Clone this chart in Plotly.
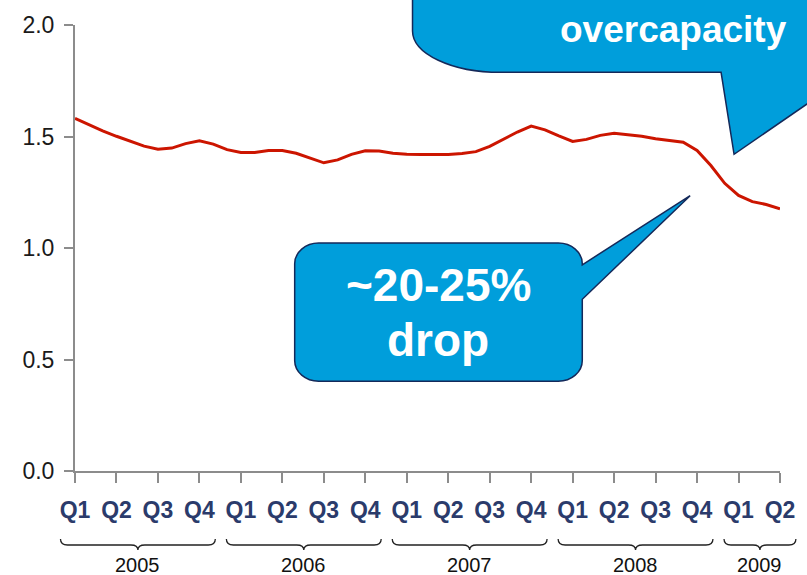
import plotly.graph_objects as go

# ---------------- data ----------------
quarter_labels = ["Q1", "Q2", "Q3", "Q4"] * 4 + ["Q1", "Q2"]
year_labels = ["2005", "2006", "2007", "2008", "2009"]
# monthly values, Jan 2005 .. Apr 2009
ratio_values = [
    1.581, 1.553, 1.525, 1.501, 1.479, 1.457, 1.443, 1.448, 1.468, 1.481, 1.466, 1.441,
    1.428, 1.428, 1.437, 1.437, 1.425, 1.405, 1.382, 1.395, 1.420, 1.436, 1.435, 1.425,
    1.420, 1.419, 1.419, 1.419, 1.424, 1.432, 1.456, 1.488, 1.520, 1.547, 1.530, 1.503,
    1.478, 1.487, 1.505, 1.514, 1.509, 1.501, 1.490, 1.481, 1.474, 1.437, 1.370, 1.290,
    1.236, 1.208, 1.195, 1.176,
]
callout_drop = ["~20-25%", "drop"]
callout_over = "overcapacity"

months = list(range(len(ratio_values)))
tick_vals = [3 * i for i in range(len(quarter_labels))]

# ---------------- geometry helpers ----------------
W, H = 807, 575
L_M, R_M, T_M, B_M = 75, 26, 19, 104
PW = W - L_M - R_M
PH = H - T_M - B_M
XMAX = months[-1]


def px(x):
    return (x - L_M) / PW


def py(y):
    return (H - B_M - y) / PH


def m2px(m):
    return L_M + m / XMAX * PW


def P(x, y):
    return f"{px(x):.5f},{py(y):.5f}"


K = 0.552


def rounded_callout(Lx, T, R, B, rx, ry, tail):
    s = f"M {P(Lx, T + ry)} "
    s += f"C {P(Lx, T + ry - K * ry)} {P(Lx + rx - K * rx, T)} {P(Lx + rx, T)} "
    s += f"L {P(R - rx, T)} "
    s += f"C {P(R - rx + K * rx, T)} {P(R, T + ry - K * ry)} {P(R, T + ry)} "
    for (x, y) in tail:
        s += f"L {P(x, y)} "
    s += f"L {P(R, B - ry)} "
    s += f"C {P(R, B - ry + K * ry)} {P(R - rx + K * rx, B)} {P(R - rx, B)} "
    s += f"L {P(Lx + rx, B)} "
    s += f"C {P(Lx + rx - K * rx, B)} {P(Lx, B - ry + K * ry)} {P(Lx, B - ry)} Z"
    return s


BLUE = "#009EDB"
EDGE = "#14295A"

fig = go.Figure()
fig.add_trace(go.Scatter(
    x=months, y=ratio_values, mode="lines",
    line=dict(color="#CC1500", width=3),
    hoverinfo="skip", showlegend=False,
))

shapes = []
# bottom callout
shapes.append(dict(
    type="path", xref="paper", yref="paper", layer="above",
    path=rounded_callout(295, 240, 583, 380, 24, 21,
                         [(583, 262), (691, 192), (583, 297)]),
    fillcolor=BLUE, line=dict(color=EDGE, width=1.5),
))
# top callout (partly off canvas)
rx, ry = 88, 42
Lx, T, R, B = 413, -80, 900, 67
top_path = f"M {P(Lx, T)} L {P(R, T)} L {P(R, B)} L {P(854, B)} L {P(735, 150)} L {P(722, B)} "
top_path += f"L {P(Lx + rx, B)} C {P(Lx + rx - K * rx, B)} {P(Lx, B - ry + K * ry)} {P(Lx, B - ry)} Z"
shapes.append(dict(
    type="path", xref="paper", yref="paper", layer="above",
    path=top_path, fillcolor=BLUE, line=dict(color=EDGE, width=1.5),
))

# year braces
annotations = []
for i, yr in enumerate(year_labels):
    first = 12 * i
    last = min(12 * i + 9, XMAX)
    x0 = m2px(first - 1.05)
    x1 = m2px(last + 1.15)
    xc = (x0 + x1) / 2
    yt, ym, yb = 540, 546, 551
    d = 7
    s = f"M {P(x0, yt)} Q {P(x0, ym)} {P(x0 + d, ym)} L {P(xc - d, ym)} "
    s += f"Q {P(xc, ym)} {P(xc, yb)} Q {P(xc, ym)} {P(xc + d, ym)} "
    s += f"L {P(x1 - d, ym)} Q {P(x1, ym)} {P(x1, yt)}"
    shapes.append(dict(type="path", xref="paper", yref="paper", path=s,
                       line=dict(color="#222222", width=1.3)))
    annotations.append(dict(
        x=px(xc), y=py(566), xref="paper", yref="paper", text=yr,
        showarrow=False, xanchor="center", yanchor="middle",
        font=dict(family="Liberation Sans, Arial", size=20, color="#111111"),
    ))

FONT_B = "Liberation Sans, Arial"
annotations.append(dict(
    x=px(439), y=py(282), xref="paper", yref="paper",
    text=f"<b>{callout_drop[0]}</b>", showarrow=False,
    xanchor="center", yanchor="middle",
    font=dict(family=FONT_B, size=46, color="white"),
))
annotations.append(dict(
    x=px(439), y=py(338), xref="paper", yref="paper",
    text=f"<b>{callout_drop[1]}</b>", showarrow=False,
    xanchor="center", yanchor="middle",
    font=dict(family=FONT_B, size=46, color="white"),
))
annotations.append(dict(
    x=px(790), y=py(24), xref="paper", yref="paper",
    text=f"<b>{callout_over}</b>", showarrow=False,
    xanchor="right", yanchor="middle",
    font=dict(family=FONT_B, size=37, color="white"),
))

AX = "#8C8C8C"
fig.update_layout(
    width=W, height=H,
    margin=dict(l=L_M, r=R_M, t=T_M, b=B_M),
    plot_bgcolor="white", paper_bgcolor="white",
    shapes=shapes, annotations=annotations,
    xaxis=dict(
        range=[0, XMAX], tickmode="array", tickvals=tick_vals, ticktext=quarter_labels,
        showgrid=False, zeroline=False, showline=True, linecolor=AX, linewidth=2,
        ticks="outside", ticklen=10, tickwidth=2, tickcolor=AX,
        tickfont=dict(family="Liberation Sans, Arial", size=23,
                      color="#2B3B6B", weight="bold"),
        ticklabelstandoff=7,
    ),
    yaxis=dict(
        range=[0, 2], tickmode="array", tickvals=[0, 0.5, 1.0, 1.5, 2.0],
        tickformat=".1f",
        showgrid=False, zeroline=False, showline=True, linecolor=AX, linewidth=2,
        ticks="outside", ticklen=9, tickwidth=2, tickcolor=AX,
        tickfont=dict(family="Liberation Sans, Arial", size=23, color="#1A1A1A"),
        ticklabelstandoff=5,
    ),
)

fig.write_html(
    "out.html",
    config={"displayModeBar": False},
    post_script="document.body.style.margin='0px';document.body.style.overflow='hidden';",
)
